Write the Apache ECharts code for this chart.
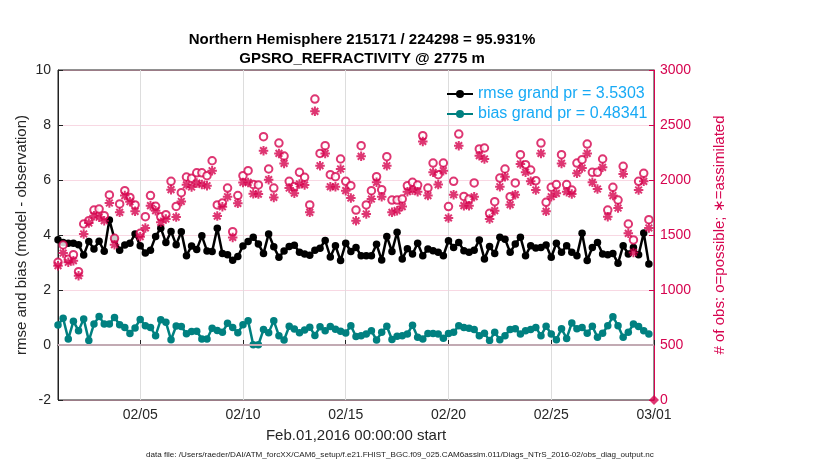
<!DOCTYPE html>
<html><head><meta charset="utf-8">
<script src="https://cdn.jsdelivr.net/npm/echarts@6/dist/echarts.min.js"></script>
<style>html,body{margin:0;padding:0;background:#fff}#c{width:830px;height:470px}</style>
</head><body><div id="c"></div><script>
// 6-hourly bins starting Feb.01,2016 00:00 (x in days since start)
const stepDays = 0.25;
const rmse = [3.83,3.73,3.70,3.70,3.65,3.27,3.76,3.49,3.77,3.41,
4.55,3.85,3.45,3.64,3.70,4.04,3.61,3.35,3.45,3.95,
4.25,3.73,4.13,3.65,4.12,3.25,3.60,3.47,3.97,3.42,
3.40,4.25,3.33,3.28,3.08,3.22,3.60,3.76,3.92,3.67,
3.33,4.04,3.57,3.19,3.42,3.58,3.63,3.37,3.31,3.26,
3.45,3.52,3.80,3.20,3.61,3.07,3.70,3.40,3.55,3.25,
3.25,3.25,3.66,3.09,3.95,3.40,4.10,3.13,3.50,3.31,
3.70,3.25,3.49,3.43,3.37,3.25,3.79,3.55,3.73,3.43,
3.37,3.45,3.82,3.13,3.58,3.33,3.92,3.85,3.37,3.67,
3.92,3.25,3.61,3.53,3.55,3.64,3.19,3.70,3.37,3.61,
3.37,3.25,4.06,3.07,3.55,3.73,3.31,3.28,3.33,2.97,
3.61,3.31,3.55,3.28,4.07,2.95];
const bias = [0.73,0.97,0.22,0.86,0.52,0.95,0.16,0.76,1.04,0.76,
0.76,1.00,0.74,0.64,0.42,0.62,0.93,0.70,0.64,0.34,
0.92,0.83,0.19,0.69,0.67,0.41,0.49,0.50,0.22,0.22,
0.61,0.53,0.46,0.79,0.64,0.45,0.74,0.88,0.01,0.01,
0.56,0.45,0.88,0.34,0.18,0.68,0.58,0.45,0.55,0.65,
0.35,0.66,0.52,0.67,0.57,0.50,0.44,0.70,0.31,0.34,
0.40,0.52,0.18,0.46,0.68,0.20,0.32,0.34,0.40,0.72,
0.28,0.22,0.42,0.42,0.40,0.25,0.42,0.46,0.70,0.64,
0.61,0.56,0.34,0.43,0.16,0.46,0.19,0.34,0.56,0.59,
0.40,0.52,0.56,0.64,0.34,0.68,0.40,0.19,0.59,0.24,
0.80,0.59,0.64,0.43,0.68,0.28,0.43,0.70,1.03,0.70,
0.28,0.46,0.76,0.67,0.52,0.40];
const possible = [1252,1409,1280,1321,1167,1600,1630,1727,1736,1676,
1864,1470,1782,1903,1842,1773,1515,1667,1858,1761,
1667,1685,1988,1760,1885,2027,2017,2065,2065,2039,
2175,1773,1790,1927,1530,1858,2039,2085,1960,1955,
2394,2100,1927,2336,2218,1988,1940,2070,2024,1773,
2736,2242,2312,2048,2030,2191,1988,1948,1727,2312,
1773,1903,2030,1912,2212,1818,1818,1827,1948,1979,
1954,2403,1927,2154,2048,2154,1758,1988,2418,1851,
1827,1973,2282,2291,1697,1803,2018,2100,1848,1973,
2230,2139,2091,1994,2336,1797,1933,1958,2230,1958,
1909,2154,2185,2327,2070,2070,2191,1727,1933,1818,
2124,1600,1455,1988,2061,1639];
const assimilated = [1221,1336,1252,1267,1130,1509,1609,1676,1661,1630,
1791,1412,1706,1858,1803,1715,1485,1564,1767,1721,
1615,1645,1912,1663,1805,1956,1936,1972,1960,1948,
2084,1672,1757,1848,1478,1788,1978,1978,1875,1872,
2267,2003,1842,2242,2151,1927,1880,1964,1955,1706,
2624,2130,2242,1939,1939,2100,1903,1836,1630,2215,
1691,1827,1979,1848,2130,1706,1721,1758,1894,1909,
1894,2351,1858,2070,1958,2085,1655,1867,2312,1767,
1767,1848,2221,2191,1645,1721,1939,2030,1776,1867,
2145,2070,1988,1909,2242,1715,1848,1879,2151,1894,
1873,2061,2109,2242,1979,1918,2115,1667,1858,1745,
2055,1515,1342,1909,1988,1564];
const endPoint = [[29, 0]];
const tickDays = [4, 9, 14, 19, 24, 29];
const tickLabels = ['02/05','02/10','02/15','02/20','02/25','03/01'];
const rmseName = 'rmse grand pr = 3.5303';
const biasName = 'bias grand pr = 0.48341';

const MAG = '#d6044f', TEAL = '#008080', TXT = '#262626';
const xy = arr => arr.map((v, i) => [i * stepDays, v]);
const ASTER = 'path://M0,-10L0,10M-10,0L10,0M-7.07,-7.07L7.07,7.07M-7.07,7.07L7.07,-7.07';
const FONT = 'Liberation Sans, Arial, Helvetica, sans-serif';

const chart = echarts.init(document.getElementById('c'), null, {renderer: 'canvas'});
chart.setOption({
  animation: false,
  textStyle: {fontFamily: FONT},
  title: {
    text: 'Northern Hemisphere 215171 / 224298 = 95.931%\nGPSRO_REFRACTIVITY @ 2775 m',
    left: 357, top: 25, textAlign: 'center',
    textStyle: {fontSize: 15, fontWeight: 'bold', color: '#000', lineHeight: 19, fontFamily: FONT}
  },
  grid: {left: 58, right: 176, top: 70, bottom: 70, show: true, borderColor: '#222', borderWidth: 1, containLabel: false},
  legend: {
    data: [rmseName, biasName], orient: 'vertical', left: 441, top: 81, itemGap: 4,
    itemWidth: 26, itemHeight: 10, selectedMode: false,
    textStyle: {fontSize: 16, color: '#18aaf5', fontFamily: FONT}
  },
  xAxis: {
    type: 'value', min: 0, max: 29, interval: 1,
    name: 'Feb.01,2016 00:00:00 start', nameLocation: 'middle', nameGap: 28,
    nameTextStyle: {fontSize: 15, color: TXT},
    axisLine: {show: true, lineStyle: {color: '#222'}},
    axisTick: {show: true, inside: true, length: 5, customValues: tickDays, lineStyle: {color: '#222'}},
    axisLabel: {customValues: tickDays, fontSize: 14, color: TXT, margin: 8,
      formatter: v => { const i = tickDays.indexOf(Math.round(v)); return i >= 0 ? tickLabels[i] : ''; }},
    splitLine: {show: true, lineStyle: {color: '#dddddd', width: 1}}
  },
  yAxis: [{
    type: 'value', min: -2, max: 10, interval: 2, position: 'left',
    name: 'rmse and bias (model - observation)', nameLocation: 'middle', nameGap: 29, nameRotate: 90,
    nameMoveOverlap: false,
    nameTextStyle: {fontSize: 15, color: TXT},
    axisLine: {show: true, lineStyle: {color: '#222'}},
    axisTick: {show: true, inside: true, length: 5, lineStyle: {color: '#222'}},
    axisLabel: {fontSize: 14, color: TXT, margin: 7},
    splitLine: {show: false}
  }, {
    type: 'value', min: 0, max: 3000, interval: 500, position: 'right',
    name: '# of obs: o=possible; \u2217=assimilated', nameLocation: 'middle', nameGap: 58, nameRotate: 90,
    nameTextStyle: {fontSize: 15, color: MAG},
    axisLine: {show: true, lineStyle: {color: MAG}},
    axisTick: {show: true, inside: true, length: 5, lineStyle: {color: MAG}},
    axisLabel: {fontSize: 14, color: MAG, margin: 6, formatter: v => String(v)},
    splitLine: {show: true, lineStyle: {color: 'rgba(214,10,83,0.16)', width: 1}}
  }],
  series: [
    {name: rmseName, type: 'line', yAxisIndex: 0, data: xy(rmse), symbol: 'circle', symbolSize: 7.5,
      lineStyle: {color: '#000', width: 2.5}, itemStyle: {color: '#000'}, z: 3},
    {name: biasName, type: 'line', yAxisIndex: 0, data: xy(bias), symbol: 'circle', symbolSize: 7.5,
      lineStyle: {color: TEAL, width: 2.5}, itemStyle: {color: TEAL}, z: 3,
      markLine: {silent: true, symbol: 'none', label: {show: false},
        lineStyle: {color: '#c2aab3', width: 2, type: 'solid'}, data: [{yAxis: 0}]}},
    {name: 'possible', type: 'scatter', yAxisIndex: 1, data: xy(possible), symbol: 'emptyCircle', symbolSize: 7.5,
      itemStyle: {color: MAG, borderColor: MAG, borderWidth: 1.8}, z: 4},
    {name: 'assimilated', type: 'scatter', yAxisIndex: 1, data: xy(assimilated), symbol: ASTER, symbolSize: 9.5,
      itemStyle: {color: 'rgba(0,0,0,0)', borderColor: MAG, borderWidth: 2}, z: 4},
    {name: 'end', type: 'scatter', yAxisIndex: 1, data: endPoint, symbol: 'diamond', symbolSize: 10,
      itemStyle: {color: MAG}, z: 5}
  ],
  graphic: [{
    type: 'text', left: 146, top: 451,
    style: {text: 'data file: /Users/raeder/DAI/ATM_forcXX/CAM6_setup/f.e21.FHIST_BGC.f09_025.CAM6assim.011/Diags_NTrS_2016-02/obs_diag_output.nc',
      fontSize: 8.1, fill: '#222', fontFamily: FONT}
  }]
});
</script></body></html>
